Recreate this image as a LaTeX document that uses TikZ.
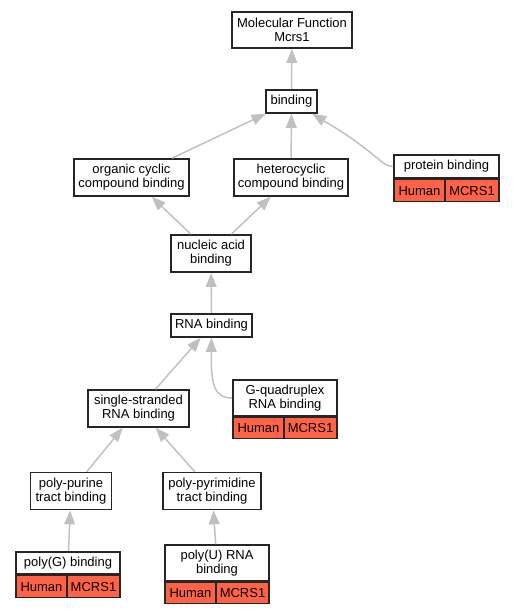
\documentclass[tikz,border=0pt]{standalone}
\usepackage{fontspec}
\setmainfont{Liberation Sans}
\usepackage{tikz}
\usetikzlibrary{arrows.meta}
\definecolor{genered}{RGB}{255,99,71}
\definecolor{edgegray}{RGB}{192,192,192}

\begin{document}
\begin{tikzpicture}[
  x=0.75pt, y=-0.75pt,
  font=\fontsize{9.75}{10.5}\selectfont,
  term/.style={draw=black!85,line width=1.2pt,fill=white,inner sep=0pt,minimum height=27.75pt},
  oneline/.style={term,minimum height=17.25pt},
  cell/.style={draw=black!85,line width=1.2pt,fill=genered,inner sep=0pt},
  to/.style={-{Triangle[length=10.5pt,width=8pt]},draw=edgegray,line width=1.1pt},
  every node/.style={align=center}]

  \useasboundingbox (0,0) rectangle (515,613);

  % GO terms
  \node[term,minimum width=90pt,minimum height=27pt] (mf) at (292,30) {Molecular Function\\Mcrs1};
  \node[oneline,minimum width=38.25pt] (binding) at (291.5,101.5) {binding};
  \node[term,minimum width=86.25pt] (organic) at (131.5,177.5) {organic cyclic\\compound binding};
  \node[term,minimum width=85.5pt] (hetero) at (291,177.5) {heterocyclic\\compound binding};
  \node[oneline,minimum width=78.75pt] (protein) at (446.5,166.5) {protein binding};
  \node[term,minimum width=60pt] (nucleic) at (211,253.5) {nucleic acid\\binding};
  \node[oneline,minimum width=60.75pt] (rna) at (211.5,325.5) {RNA binding};
  \node[term,minimum width=78pt,minimum height=27pt] (gquad) at (285,398) {G-quadruplex\\RNA binding};
  \node[term,minimum width=75.75pt] (single) at (138.5,408.5) {single-stranded\\RNA binding};
  \node[term,minimum width=60.75pt] (purine) at (71,491) {poly-purine\\tract binding};
  \node[term,minimum width=73.5pt] (pyrimidine) at (212,491) {poly-pyrimidine\\tract binding};
  \node[oneline,minimum width=78pt,minimum height=16.5pt] (polyg) at (68,563) {poly(G) binding};
  \node[term,minimum width=78pt,minimum height=27pt] (polyu) at (217,563) {poly(U) RNA\\binding};

  % gene rows
  \node[cell,minimum width=38.25pt,minimum height=16.5pt,anchor=north west] (protein_h) at (protein.south west) {Human};
  \node[cell,minimum width=40.5pt,minimum height=16.5pt,anchor=north east] (protein_g) at (protein.south east) {MCRS1};
  \node[cell,minimum width=38.25pt,minimum height=15.75pt,anchor=north west] (gquad_h) at (gquad.south west) {Human};
  \node[cell,minimum width=39.75pt,minimum height=15.75pt,anchor=north east] (gquad_g) at (gquad.south east) {MCRS1};
  \node[cell,minimum width=38.25pt,minimum height=16.5pt,anchor=north west] (polyg_h) at (polyg.south west) {Human};
  \node[cell,minimum width=39.75pt,minimum height=16.5pt,anchor=north east] (polyg_g) at (polyg.south east) {MCRS1};
  \node[cell,minimum width=38.25pt,minimum height=15.75pt,anchor=north west] (polyu_h) at (polyu.south west) {Human};
  \node[cell,minimum width=39.75pt,minimum height=15.75pt,anchor=north east] (polyu_g) at (polyu.south east) {MCRS1};

  % is-a edges
  \draw[to] (binding) -- (mf);
  \draw[to] (organic) -- (binding);
  \draw[to] (hetero) -- (binding);
  \draw[to] (protein.west) .. controls (381,166.5) and (378,153) .. (binding);
  \draw[to] (nucleic) -- (organic);
  \draw[to] (nucleic) -- (hetero);
  \draw[to] (rna) -- (nucleic);
  \draw[to] (single) -- (rna);
  \draw[to] (gquad.west) .. controls (214,398) and (211,385) .. (rna);
  \draw[to] (purine) -- (single);
  \draw[to] (pyrimidine) -- (single);
  \draw[to] (polyg) -- (purine);
  \draw[to] (polyu) -- (pyrimidine);
\end{tikzpicture}
\end{document}
